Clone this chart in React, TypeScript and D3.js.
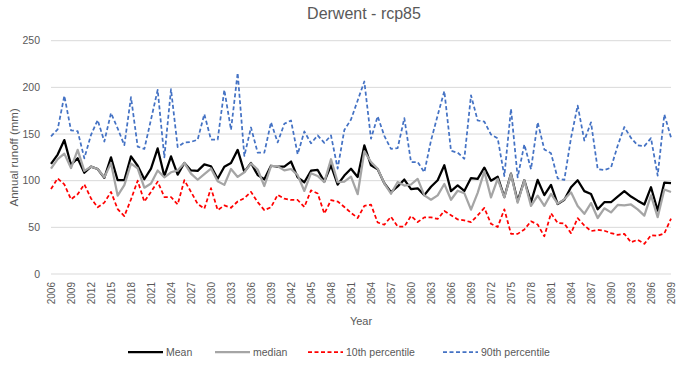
import React from "react";
import * as d3 from "d3";

// Derwent - rcp85 annual runoff (mm)
const years = d3.range(2006, 2100);

const meanRunoff = [
  118, 128, 143.5, 117, 124, 108.5, 115, 112.5, 103, 125,
  100.5, 100.5, 126, 116, 101.5, 113, 134.6, 105, 126, 106.5,
  119, 111, 110.5, 117.5, 115.5, 102, 115, 119, 133, 109.5,
  119, 106, 101.5, 116, 115, 115, 120.5, 103.5, 98.3, 110.7,
  111.5, 99, 116.5, 95.7, 105.5, 112.8, 104, 137.8, 116.5, 112.3,
  97.3, 87.8, 93.8, 101.2, 91, 91.8, 84.5, 93.5, 100.5, 116.5,
  88.8, 95, 89, 102.8, 102, 114, 100, 104.3, 82.5, 107.5,
  78, 100.5, 77, 100.8, 84.5, 95.5, 75, 79.5, 93, 100.5,
  88.8, 85.7, 69.3, 76.9, 76.9, 83, 88.8, 83, 78.6, 74.5,
  93, 68, 98, 97.3,
];

const medianRunoff = [
  113, 123, 129, 113.5, 133, 110.5, 115, 112.5, 103.6, 118.8,
  84, 95.2, 118.3, 113.3, 92.5, 97, 111, 103.6, 109, 111,
  119, 107.5, 101, 107, 113, 99.5, 95.5, 112.5, 104, 109,
  118.5, 112, 94.3, 115.5, 115.5, 111, 112.5, 106, 89, 108,
  105, 98.5, 123, 98.5, 99, 104.3, 85.5, 131.5, 120, 112.8,
  97.2, 86, 98.6, 94.8, 95.9, 101.9, 84.3, 79.6, 84.3, 96.4,
  79.6, 89.2, 86.6, 69, 87, 110, 82, 102, 82, 107,
  76.4, 100.5, 73, 84, 73, 85.8, 75.4, 80, 87.5, 72.8,
  64.5, 76, 60, 70.4, 66, 74, 73.5, 74.5, 69.3, 62.5,
  84.3, 60.9, 90.5, 87.8,
];

const p10Runoff = [
  91, 102.5, 96, 80, 85.5, 96, 81, 71.5, 76.5, 88,
  69.6, 62, 80, 100, 77.5, 88, 99, 82.5, 82.5, 74.5,
  100.5, 88, 75, 70, 92, 68.5, 73.5, 71, 77.7, 81.2,
  88, 77, 68.5, 71.5, 84.8, 80.7, 79.3, 79.3, 71.8, 89.7,
  86.3, 64.7, 79.1, 77.7, 71.8, 65.6, 60, 73, 74.3, 55.2,
  52.8, 61.4, 50.8, 50.8, 62.2, 55.7, 60.7, 60.7, 59, 67.5,
  63, 58.5, 57.5, 55.5, 62.8, 70.8, 53.8, 50.3, 69.3, 43,
  43, 47.7, 56.5, 53, 40.4, 65, 54.8, 54, 43.8, 59.8,
  52, 46, 47.2, 46.4, 43.8, 42, 43, 34, 36.7, 32.3,
  41.5, 41, 43.5, 59.3,
];

const p90Runoff = [
  147.5, 155, 191, 154, 153, 124, 149, 165, 142, 172.5,
  156, 138, 189.5, 136.5, 134, 165.5, 197.3, 125, 198, 136,
  141, 141.5, 144, 171.3, 144, 144, 197.3, 154.5, 215.5, 126.5,
  157, 130, 130, 162.5, 141, 161, 164.5, 128.3, 152.8, 140,
  148.5, 140.5, 148.5, 113, 154.3, 165.5, 186, 206.3, 145, 169,
  148, 134, 135, 167, 120, 120, 109, 143, 170, 196,
  132, 130, 123.5, 191.5, 164.5, 163.3, 149.5, 145.5, 105, 177,
  103.6, 138.8, 112.3, 162.5, 133.5, 129.3, 102.5, 100.8, 145.8, 180.5,
  143, 162.5, 112.5, 111.3, 114, 137.5, 157.5, 145.8, 137.8, 137,
  145.6, 105.4, 171, 146.2,
];

const yTicks = [0, 50, 100, 150, 200, 250];

const series = [
  { name: "Mean", values: meanRunoff, color: "#000000", dash: "none" },
  { name: "median", values: medianRunoff, color: "#a5a5a5", dash: "none" },
  { name: "10th percentile", values: p10Runoff, color: "#ff0000", dash: "4,2.5" },
  { name: "90th percentile", values: p90Runoff, color: "#4472c4", dash: "4,2.5" },
];

const W = 684;
const H = 372;
const margin = { top: 40.7, right: 13, bottom: 98, left: 51 };
const font = "'Liberation Sans', Arial, sans-serif";
const textColor = "#595959";

export default function App() {
  const x = d3
    .scalePoint<number>()
    .domain(years)
    .range([margin.left, W - margin.right]);
  const y = d3
    .scaleLinear()
    .domain([0, 250])
    .range([H - margin.bottom, margin.top]);

  const line = (vals: number[]) =>
    d3
      .line<number>()
      .x((_, i) => x(years[i]) as number)
      .y((d) => y(d))(vals) || "";

  // legend positions (line start)
  const legendX = [128, 215, 308, 443];
  const legendY = 352;

  return (
    <svg
      width={W}
      height={H}
      style={{ position: "absolute", left: 0, top: 0, background: "#fff" }}
      fontFamily={font}
    >
      <rect width={W} height={H} fill="#fff" />
      <text x={364} y={19} textAnchor="middle" fontSize={16} fill={textColor}>
        Derwent - rcp85
      </text>

      {/* grid + y ticks */}
      {yTicks.map((t) => (
        <g key={t}>
          <line
            x1={margin.left}
            x2={W - margin.right}
            y1={y(t)}
            y2={y(t)}
            stroke="#d9d9d9"
            strokeWidth={1}
          />
          <text
            x={40}
            y={y(t)}
            dy="0.35em"
            textAnchor="end"
            fontSize={10.5}
            fill={textColor}
          >
            {t}
          </text>
        </g>
      ))}

      {/* x tick labels, every 3rd year */}
      {years
        .filter((yr) => (yr - 2006) % 3 === 0)
        .map((yr) => (
          <text
            key={yr}
            transform={`translate(${x(yr)},${H - margin.bottom + 8}) rotate(-90)`}
            dy="0.35em"
            textAnchor="end"
            fontSize={10}
            fill={textColor}
          >
            {yr}
          </text>
        ))}

      {/* series */}
      {series.map((s) => (
        <path
          key={s.name}
          d={line(s.values)}
          fill="none"
          stroke={s.color}
          strokeWidth={s.dash === "none" ? 2.25 : 1.75}
          strokeDasharray={s.dash}
          strokeLinejoin="round"
        />
      ))}

      {/* axis titles */}
      <text x={361} y={325} textAnchor="middle" fontSize={11} fill={textColor}>
        Year
      </text>
      <text
        transform={`translate(14,${(margin.top + H - margin.bottom) / 2}) rotate(-90)`}
        dy="0.35em"
        textAnchor="middle"
        fontSize={11.5}
        fill={textColor}
      >
        Annual runoff (mm)
      </text>

      {/* legend */}
      {series.map((s, i) => (
        <g key={s.name}>
          <line
            x1={legendX[i]}
            x2={legendX[i] + 35}
            y1={legendY}
            y2={legendY}
            stroke={s.color}
            strokeWidth={s.dash === "none" ? 2.25 : 1.75}
            strokeDasharray={s.dash}
          />
          <text
            x={legendX[i] + 38}
            y={legendY}
            dy="0.35em"
            fontSize={10.5}
            fill={textColor}
          >
            {s.name}
          </text>
        </g>
      ))}
    </svg>
  );
}
